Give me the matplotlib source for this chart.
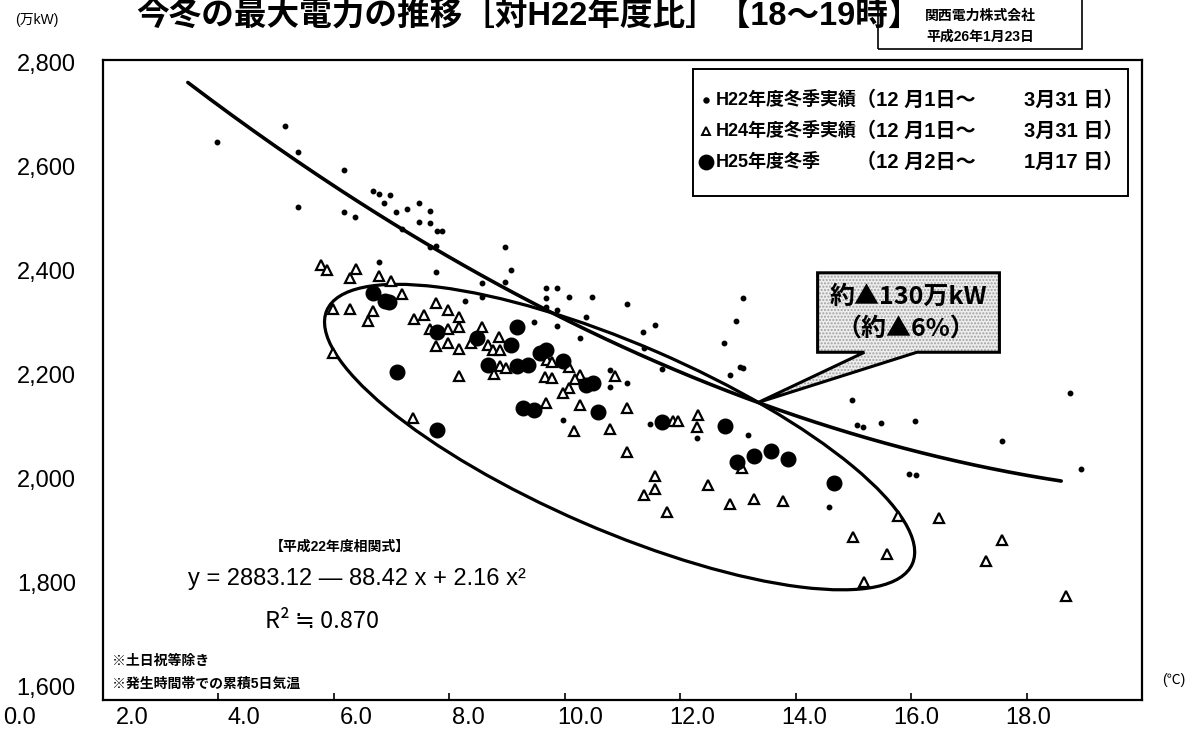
import numpy as np
import matplotlib
matplotlib.use("Agg")
import matplotlib.pyplot as plt
from matplotlib.lines import Line2D
from matplotlib.patches import Ellipse, Polygon, Rectangle
from matplotlib.transforms import ScaledTranslation

plt.rcParams['font.family'] = ['Liberation Sans', 'Noto Sans CJK JP']
JP = ['Noto Sans CJK JP', 'DejaVu Sans']

# H22 winter actuals (temperature degC, peak demand 10MW)
h22_temp = [1.97, 3.15, 3.38, 3.38, 4.17, 4.17, 4.36, 4.68, 4.78, 4.97,
            4.87, 5.07, 5.26, 5.47, 5.66, 5.47, 5.66, 5.78, 5.87, 5.18,
            5.66, 5.77, 6.96, 4.78, 5.77, 6.56, 7.07, 6.96, 6.27, 6.56,
            7.67, 7.86, 7.67, 8.07, 8.47, 9.07, 7.67, 7.86, 7.46, 7.86,
            8.36, 9.56, 9.35, 8.26, 9.37, 9.68, 8.78, 8.78, 9.07, 7.97,
            9.47, 10.29, 10.96, 10.75, 11.03, 11.08, 10.87, 11.17, 11.08, 12.97,
            13.06, 13.16, 13.47, 14.06, 15.57, 13.96, 14.08, 12.57, 16.76, 16.94]
h22_load = [2646, 2676, 2628, 2524, 2594, 2515, 2506, 2554, 2549, 2547,
            2532, 2515, 2521, 2532, 2517, 2496, 2494, 2479, 2479, 2483,
            2449, 2451, 2449, 2421, 2403, 2382, 2406, 2384, 2348, 2356,
            2373, 2373, 2354, 2356, 2356, 2343, 2337, 2331, 2309, 2301,
            2318, 2303, 2290, 2279, 2260, 2221, 2219, 2187, 2194, 2125,
            2118, 2091, 2311, 2270, 2224, 2223, 2209, 2097, 2354, 2163,
            2116, 2112, 2119, 2123, 2086, 2024, 2022, 1962, 2176, 2033]

# H24 winter actuals
h24_temp = [3.78, 3.88, 4.38, 4.28, 4.78, 4.99, 5.18, 3.98, 4.28, 4.68,
            4.59, 3.98, 5.77, 5.97, 5.56, 5.39, 6.17, 6.17, 5.66, 5.97,
            6.56, 6.86, 5.97, 5.77, 6.17, 6.37, 6.67, 6.75, 6.87, 6.87,
            6.98, 6.77, 6.17, 7.69, 7.78, 8.07, 7.65, 7.78, 8.26, 8.17,
            8.87, 8.07, 7.97, 7.67, 8.26, 9.07, 8.16, 8.78, 5.37, 9.87,
            9.97, 10.29, 10.30, 9.07, 11.07, 9.56, 9.56, 9.37, 9.77, 10.48,
            10.87, 11.27, 11.78, 13.77, 14.48, 12.99, 13.58, 13.18, 15.58, 15.29,
            16.68]
h24_load = [2416, 2406, 2408, 2391, 2395, 2386, 2361, 2333, 2333, 2329,
            2311, 2251, 2344, 2331, 2322, 2314, 2318, 2299, 2296, 2296,
            2299, 2281, 2269, 2264, 2258, 2269, 2266, 2256, 2256, 2226,
            2223, 2211, 2208, 2238, 2234, 2224, 2206, 2204, 2209, 2202,
            2208, 2185, 2176, 2157, 2153, 2148, 2104, 2108, 2129, 2123,
            2123, 2112, 2134, 2065, 2035, 2020, 1996, 1984, 1953, 2003,
            1968, 1977, 1973, 1945, 1941, 1906, 1874, 1821, 1900, 1861,
            1795]

# H25 winter so far (Dec 2 - Jan 17)
h25_temp = [4.68, 4.88, 4.95, 5.78, 6.48, 7.17, 7.07, 6.67, 7.17, 7.36,
            7.57, 7.67, 7.97, 5.09, 8.36, 8.49, 7.27, 7.46, 8.57, 5.78,
            9.68, 10.77, 10.98, 11.27, 11.57, 11.86, 12.66]
h25_load = [2363, 2348, 2346, 2290, 2279, 2299, 2266, 2228, 2226, 2228,
            2251, 2256, 2236, 2215, 2191, 2194, 2148, 2144, 2140, 2106,
            2121, 2114, 2046, 2058, 2067, 2052, 2007]

# H22 correlation: y = 2883.12 - 88.42 x + 2.16 x^2
coef = [2.16, -88.42, 2883.12]
fit_x = np.linspace(1.47, 16.6, 200)
fit_y = np.polyval(coef, fit_x)

x_ticks = np.arange(0, 18.1, 2)
y_ticks = np.arange(1600, 2801, 200)

W, H = 1201, 747


def fx(px):
    return px / W


def fy(py):
    return 1 - py / H


fig = plt.figure(figsize=(W / 100, H / 100), dpi=100)
ax = fig.add_axes([fx(103), fy(700), (1142 - 103) / W, 640 / H])
ax.set_xlim(0, 18)
ax.set_ylim(1600, 2800)
for s in ax.spines.values():
    s.set_linewidth(1.6)
ax.set_xticks(x_ticks)
ax.tick_params(axis='x', direction='in', length=5, width=1.2, labelbottom=False)
ax.tick_params(axis='y', left=False, labelleft=False)

# ellipse around the H25 cluster, sized in pixels around a data-space centre
ell = Ellipse((0, 0), 6.38, 1.86, angle=-23.4, fill=False, lw=2.3, ec='black',
              transform=fig.dpi_scale_trans + ScaledTranslation(8.95, 2093, ax.transData))
ax.add_patch(ell)

ax.plot(fit_x, fit_y, color='black', lw=2.6, solid_capstyle='round')

ax.plot(h22_temp, h22_load, ls='none', marker='o', ms=3.2, color='black')
ax.plot(h24_temp, h24_load, ls='none', marker='^', ms=7, mfc='white', mec='black', mew=1.6)
ax.plot(h25_temp, h25_load, ls='none', marker='o', ms=10.5, color='black')

# callout pointing to the correlation curve
tip_x = 11.35
tip_y = np.polyval(coef, tip_x)
bx0, bx1, by0, by1 = 12.38, 15.53, 2252, 2401
shape = [(bx0, by0), (bx0, by1), (bx1, by1), (bx1, by0), (14.10, by0),
         (tip_x, tip_y), (13.19, by0)]
ax.add_patch(Polygon(shape, closed=True, fc='#eeeeee', ec='#a0a0a0', hatch='.....', lw=0, zorder=5))
ax.add_patch(Polygon(shape, closed=True, fill=False, ec='black', lw=2.2, zorder=6))
ax.text((bx0 + bx1) / 2, 2356, '約▲130万kW', ha='center', va='center', fontsize=18,
        fontweight='bold', family=JP, zorder=7)
ax.text((bx0 + bx1) / 2 - 0.05, 2294, '（約▲6%）', ha='center', va='center', fontsize=18,
        fontweight='bold', family=JP, zorder=7)

# tick labels
xl = fig.add_axes([fx(20), fy(704), (1028 - 20) / W, 0.001])
xl.set_xlim(0, 18)
xl.set_xticks(x_ticks)
xl.set_xticklabels([f'{v:.1f}' for v in x_ticks], fontsize=17)
xl.tick_params(axis='x', length=0, pad=2)
xl.set_yticks([])
for s in xl.spines.values():
    s.set_visible(False)
xl.patch.set_alpha(0)

yl = fig.add_axes([fx(80), fy(686), 0.001, (686 - 62) / H])
yl.set_ylim(1600, 2800)
yl.set_yticks(y_ticks)
yl.set_yticklabels([f'{v:,}' for v in y_ticks], fontsize=17)
yl.tick_params(axis='y', length=0, pad=3)
yl.set_xticks([])
for s in yl.spines.values():
    s.set_visible(False)
yl.patch.set_alpha(0)

# title and units
fig.text(fx(528), fy(25), '今冬の最大電力の推移［対H22年度比］【18～19時】', ha='center', va='baseline',
         fontsize=23.5, fontweight='bold')
fig.text(fx(15), fy(20), '(万kW)', ha='left', va='center', fontsize=10)
fig.text(fx(1162), fy(680), '(℃)', ha='left', va='center', fontsize=10)

# issuer box
fig.patches.append(Rectangle((fx(878), fy(49)), (1082 - 878) / W, 60 / H, transform=fig.transFigure,
                             fill=False, ec='black', lw=1.2))
fig.text(fx(980), fy(16), '関西電力株式会社', ha='center', va='center', fontsize=10, fontweight='bold')
fig.text(fx(980), fy(37), '平成26年1月23日', ha='center', va='center', fontsize=10, fontweight='bold')

# legend
fig.patches.append(Rectangle((fx(693), fy(196)), (1128 - 693) / W, (196 - 69) / H,
                             transform=fig.transFigure, fc='white', ec='black', lw=1.4, zorder=8))
rows = [(100, 'o', 3.2, 'black', 'H22年度冬季実績', '（12 月1日～', '3月31 日）'),
        (131, '^', 6, 'white', 'H24年度冬季実績', '（12 月1日～', '3月31 日）'),
        (162, 'o', 10, 'black', 'H25年度冬季', '（12 月2日～', '1月17 日）')]
for py, mk, ms, fc, name, start, end in rows:
    fig.lines.append(Line2D([fx(706)], [fy(py)], transform=fig.transFigure, ls='none',
                            marker=mk, ms=ms, mfc=fc, mec='black', mew=1.4, zorder=9))
    fig.text(fx(716), fy(py), name, ha='left', va='center', fontsize=13, fontweight='bold', zorder=9)
    fig.text(fx(856), fy(py), start, ha='left', va='center', fontsize=14.5, fontweight='bold', zorder=9)
    fig.text(fx(1124), fy(py), end, ha='right', va='center', fontsize=14.5, fontweight='bold', zorder=9)

# correlation notes
fig.text(fx(340), fy(547), '【平成22年度相関式】', ha='center', va='center', fontsize=10, fontweight='bold')
fig.text(fx(188), fy(579), 'y = 2883.12 — 88.42 x + 2.16 x²', ha='left', va='center', fontsize=17)
fig.text(fx(265), fy(621), 'R² ≒ 0.870', ha='left', va='center', fontsize=17, family=JP)
fig.text(fx(112), fy(661), '※土日祝等除き', ha='left', va='center', fontsize=10, fontweight='bold')
fig.text(fx(112), fy(684), '※発生時間帯での累積5日気温', ha='left', va='center', fontsize=10, fontweight='bold')

fig.savefig('out.png', dpi=100)
